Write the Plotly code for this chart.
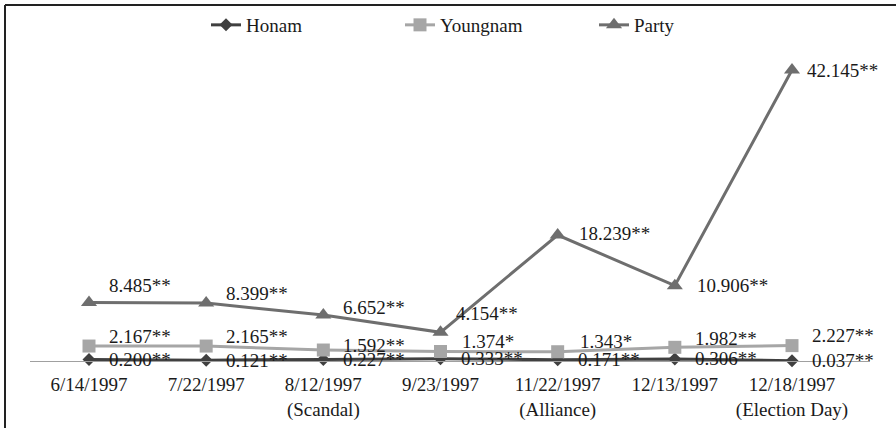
import plotly.graph_objects as go

# ---- data ----
dates = ["6/14/1997", "7/22/1997", "8/12/1997<br>(Scandal)", "9/23/1997",
         "11/22/1997<br>(Alliance)", "12/13/1997", "12/18/1997<br>(Election Day)"]
honam = [0.200, 0.121, 0.227, 0.333, 0.171, 0.306, 0.037]
honam_labels = ["0.200**", "0.121**", "0.227**", "0.333**", "0.171**", "0.306**", "0.037**"]
youngnam = [2.167, 2.165, 1.592, 1.374, 1.343, 1.982, 2.227]
youngnam_labels = ["2.167**", "2.165**", "1.592**", "1.374*", "1.343*", "1.982**", "2.227**"]
party = [8.485, 8.399, 6.652, 4.154, 18.239, 10.906, 42.145]
party_labels = ["8.485**", "8.399**", "6.652**", "4.154**", "18.239**", "10.906**", "42.145**"]

# ---- style ----
FONT = "Liberation Serif"
TXT = "#1a1a1a"
colors = {"Honam": "#404040", "Youngnam": "#a6a6a6", "Party": "#6e6e6e"}
# label pixel offsets (dx, dy up) per point
honam_off = [(18, 0)] * 7
youngnam_off = [(18, 10), (18, 10), (18, 5), (19, 10), (20, 10), (18, 9), (18, 10)]
party_off = [(18, 17), (18, 10), (18, 8), (13, 19), (19, 2), (20, 0), (13, 0)]

xs = list(range(len(dates)))
fig = go.Figure()
series = [("Honam", honam, "diamond", 10), ("Youngnam", youngnam, "square", 13),
          ("Party", party, "triangle-up", 14)]
for name, vals, sym, sz in series:
    fig.add_trace(go.Scatter(
        x=xs, y=vals, name=name, mode="lines+markers",
        line=dict(color=colors[name], width=3),
        marker=dict(symbol=sym, size=sz, color=colors[name]),
        cliponaxis=False, hoverinfo="skip"))

annots = []
for vals, labs, offs in [(honam, honam_labels, honam_off),
                         (youngnam, youngnam_labels, youngnam_off),
                         (party, party_labels, party_off)]:
    for i, (v, t) in enumerate(zip(vals, labs)):
        annots.append(dict(x=xs[i], y=v, text=t, showarrow=False,
                           xanchor="left", yanchor="middle",
                           xshift=offs[i][0], yshift=offs[i][1],
                           font=dict(family=FONT, size=19, color=TXT)))

W, H = 896, 428
L, R, T, B = 30, 26, 0, 67
pw, ph = W - L - R, H - T - B
def px_x(p): return (p - L) / pw
def px_y(p): return (H - B - p) / ph

shapes = [
    dict(type="line", xref="paper", yref="paper", x0=px_x(5), x1=px_x(896),
         y0=px_y(5), y1=px_y(5), line=dict(color="#222222", width=2)),
    dict(type="line", xref="paper", yref="paper", x0=px_x(5), x1=px_x(5),
         y0=px_y(5), y1=px_y(428), line=dict(color="#222222", width=2)),
]

step = (792 - 89) / 6
ppu = (361 - 70) / 42.145  # pixels per unit on the value axis
fig.update_layout(
    width=W, height=H, margin=dict(l=L, r=R, t=T, b=B),
    paper_bgcolor="white", plot_bgcolor="white",
    font=dict(family=FONT, size=19, color=TXT),
    showlegend=True,
    legend=dict(orientation="h", x=px_x(497), y=px_y(6), xanchor="center",
                yanchor="top", font=dict(family=FONT, size=19, color=TXT),
                bgcolor="rgba(0,0,0,0)", entrywidth=149, entrywidthmode="pixels"),
    annotations=annots, shapes=shapes,
    xaxis=dict(range=[-(89 - L) / step, 6 + (W - R - 792) / step],
               tickvals=xs, ticktext=dates, showgrid=False, zeroline=False,
               showline=True, linecolor="#a0a0a0", linewidth=1, ticks="",
               ticklabelstandoff=6,
               tickfont=dict(family=FONT, size=19, color=TXT), fixedrange=True),
    yaxis=dict(range=[0, ph / ppu], visible=False, showgrid=False, zeroline=False,
               fixedrange=True),
)
fig.write_html("out.html", config={"displayModeBar": False},
               post_script="document.body.style.margin='0';")
